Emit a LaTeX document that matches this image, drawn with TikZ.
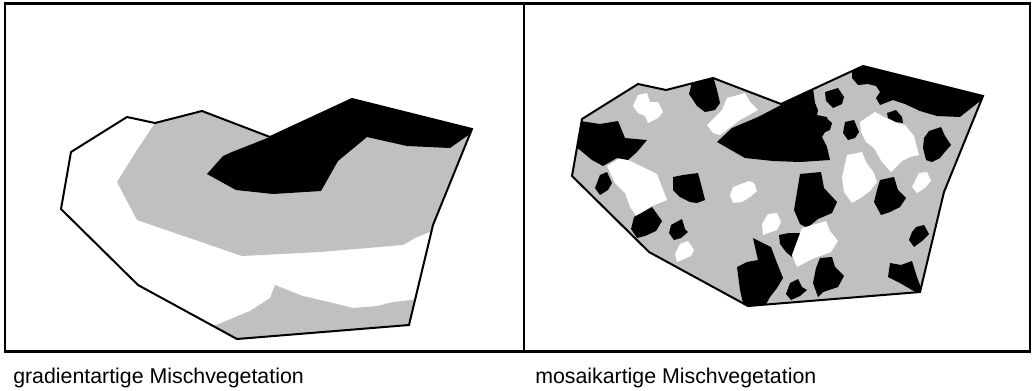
\documentclass[tikz,border=0pt]{standalone}
\usepackage{fontspec}
\setmainfont{Liberation Sans}
\definecolor{veggray}{RGB}{192,192,192}
\begin{document}
\begin{tikzpicture}[x=0.75pt,y=-0.75pt,
  frame/.style={line width=1.6pt},
  outline/.style={line width=1.5pt},
  grayfill/.style={fill=veggray},
  blackfill/.style={fill=black},
  whitefill/.style={fill=white},
  caption/.style={anchor=base west, inner sep=0pt, font=\fontsize{16}{19}\selectfont}]
\useasboundingbox (0,0) rectangle (1033,390);
\fill[white] (0,0) rectangle (1033,390);
% frame
\draw[frame] (5,3.5) rectangle (1030,351.5);
\draw[frame] (524,3.5) -- (524,351.5);

% ---------- left panel: gradient ----------
\begin{scope}
  \clip (127,117) -- (155,123) -- (202,111) -- (270,137) -- (352,99) -- (472,129) -- (433,225) -- (409,325) -- (237,339) -- (138,285) -- (61,209) -- (71,152) -- cycle;
  \fill[grayfill] (155,123) -- (202,111) -- (270,137) -- (352,99) -- (480,125) -- (440,228) -- (417,237) -- (403,245) -- (320,252) -- (242,256) -- (137,220) -- (117,182) -- (137,150) -- cycle;
  \fill[blackfill] (207,174) -- (223,156) -- (232,152) -- (270,137) -- (352,95) -- (480,127) -- (450,148) -- (407,146) -- (367,137) -- (338,161) -- (321,191) -- (273,194) -- (236,190) -- cycle;
  \fill[grayfill] (205,330) -- (216,325) -- (250,311) -- (270,298) -- (275,285) -- (303,296) -- (333,303) -- (353,308) -- (377,306) -- (393,302) -- (420,299) -- (420,350) -- (230,350) -- cycle;
\end{scope}
\draw[outline] (127,117) -- (155,123) -- (202,111) -- (270,137) -- (352,99) -- (472,129) -- (433,225) -- (409,325) -- (237,339) -- (138,285) -- (61,209) -- (71,152) -- cycle;

% ---------- right panel: mosaic ----------
\begin{scope}
  \clip[shift={(511,-33)}] (127,117) -- (155,123) -- (202,111) -- (270,137) -- (352,99) -- (472,129) -- (433,225) -- (409,325) -- (237,339) -- (138,285) -- (61,209) -- (71,152) -- cycle;
  \fill[grayfill] (560,50) rectangle (1000,320);
  % white patch behind the large black one
  \fill[whitefill] (727,98) -- (745,93) -- (750,102) -- (758,110) -- (740,120) -- (720,135) -- (713,133) -- (707,125) -- (722,110) -- cycle;
  % white patches
  \fill[whitefill] (638,95) -- (647,93) -- (650,102) -- (658,102) -- (663,112) -- (658,118) -- (648,123) -- (645,116) -- (638,113) -- (633,106) -- cycle;
  \fill[whitefill] (607,166) -- (622,157) -- (657,174) -- (667,200) -- (650,207) -- (642,213) -- (637,217) -- (630,207) -- (625,193) -- (615,183) -- cycle;
  \fill[whitefill] (733,187) -- (749,181) -- (754,183) -- (757,191) -- (750,197) -- (742,202) -- (733,203) -- (730,195) -- cycle;
  \fill[whitefill] (768,214) -- (777,213) -- (781,222) -- (777,230) -- (768,233) -- (763,235) -- (762,224) -- cycle;
  \fill[whitefill] (680,244) -- (688,241) -- (694,250) -- (691,256) -- (682,260) -- (677,262) -- (675,254) -- cycle;
  \fill[whitefill] (847,155) -- (862,152) -- (866,162) -- (874,173) -- (877,182) -- (870,191) -- (862,197) -- (852,203) -- (844,192) -- (842,178) -- cycle;
  \fill[whitefill] (860,122) -- (875,112) -- (884,117) -- (897,123) -- (905,125) -- (914,136) -- (919,155) -- (910,157) -- (902,161) -- (891,172) -- (882,162) -- (874,148) -- (866,142) -- (861,132) -- cycle;
  \fill[whitefill] (919,173) -- (927,172) -- (931,181) -- (925,188) -- (917,193) -- (912,187) -- cycle;
  % black patches
  \fill[blackfill] (574,120) -- (600,124) -- (618,121) -- (625,138) -- (647,140) -- (637,152) -- (628,160) -- (617,158) -- (603,166) -- (592,160) -- (574,145) -- cycle;
  \fill[blackfill] (692,82) -- (713,76) -- (717,90) -- (720,103) -- (715,110) -- (705,112) -- (697,106) -- (689,94) -- cycle;
  \fill[blackfill] (717,142) -- (732,128) -- (758,117) -- (783,104) -- (800,90) -- (813,88) -- (815,103) -- (818,110) -- (817,115) -- (827,117) -- (830,127) -- (825,132) -- (822,137) -- (827,147) -- (830,160) -- (800,162) -- (773,161) -- (745,158) -- cycle;
  \fill[blackfill] (858,60) -- (990,94) -- (984,98) -- (960,117) -- (937,116) -- (920,111) -- (905,104) -- (893,100) -- (880,105) -- (876,98) -- (880,92) -- (876,86) -- (868,84) -- (858,85) -- (852,78) -- (852,66) -- cycle;
  \fill[blackfill] (825,92) -- (838,88) -- (844,97) -- (842,104) -- (833,108) -- (826,101) -- cycle;
  \fill[blackfill] (818,118) -- (825,117) -- (832,123) -- (830,130) -- (823,133) -- (817,130) -- cycle;
  \fill[blackfill] (845,122) -- (854,120) -- (859,132) -- (855,138) -- (848,140) -- (843,133) -- cycle;
  \fill[blackfill] (887,113) -- (896,110) -- (902,117) -- (903,123) -- (896,122) -- (888,118) -- cycle;
  \fill[blackfill] (929,131) -- (941,127) -- (945,136) -- (951,145) -- (944,153) -- (940,158) -- (932,162) -- (926,160) -- (923,148) -- (924,138) -- cycle;
  \fill[blackfill] (673,177) -- (683,175) -- (698,173) -- (702,188) -- (705,200) -- (697,203) -- (690,202) -- (680,197) -- (673,190) -- cycle;
  \fill[blackfill] (600,175) -- (607,172) -- (612,183) -- (608,190) -- (600,195) -- (595,188) -- cycle;
  \fill[blackfill] (634,217) -- (643,212) -- (652,207) -- (662,221) -- (656,231) -- (645,236) -- (637,238) -- (631,229) -- cycle;
  \fill[blackfill] (671,225) -- (682,219) -- (685,229) -- (688,232) -- (681,238) -- (674,240) -- (669,233) -- cycle;
  \fill[blackfill] (800,174) -- (821,172) -- (824,188) -- (837,202) -- (832,213) -- (818,219) -- (807,228) -- (800,224) -- (794,210) -- (797,192) -- cycle;
  \fill[blackfill] (880,180) -- (894,177) -- (898,190) -- (906,198) -- (900,207) -- (890,212) -- (881,215) -- (874,202) -- (877,190) -- cycle;
  \fill[blackfill] (779,235) -- (789,233) -- (800,233) -- (804,240) -- (797,250) -- (792,257) -- (786,252) -- (780,244) -- cycle;
  \fill[blackfill] (753,238) -- (771,247) -- (777,263) -- (783,278) -- (777,288) -- (770,297) -- (765,306) -- (745,312) -- (740,290) -- (737,267) -- (747,262) -- (758,260) -- (755,247) -- cycle;
  \fill[blackfill] (790,283) -- (798,279) -- (802,287) -- (807,290) -- (800,296) -- (791,300) -- (786,294) -- cycle;
  \fill[blackfill] (820,258) -- (832,257) -- (835,267) -- (844,276) -- (838,287) -- (823,292) -- (818,297) -- (813,283) -- (816,268) -- cycle;
  \fill[blackfill] (916,227) -- (924,225) -- (929,234) -- (922,241) -- (914,247) -- (909,240) -- (912,232) -- cycle;
  \fill[blackfill] (890,263) -- (901,265) -- (912,261) -- (917,277) -- (924,296) -- (912,290) -- (900,283) -- (888,277) -- cycle;
  % white patch in front of a black one
  \fill[whitefill] (802,228) -- (826,221) -- (830,231) -- (838,241) -- (831,252) -- (812,259) -- (797,267) -- (792,255) -- cycle;
\end{scope}
\draw[outline, shift={(511,-33)}] (127,117) -- (155,123) -- (202,111) -- (270,137) -- (352,99) -- (472,129) -- (433,225) -- (409,325) -- (237,339) -- (138,285) -- (61,209) -- (71,152) -- cycle;

% captions
\node[caption] (lefttitle) at (13,383) {gradientartige Mischvegetation};
\node[caption] (righttitle) at (535,383) {mosaikartige Mischvegetation};
\end{tikzpicture}
\end{document}
